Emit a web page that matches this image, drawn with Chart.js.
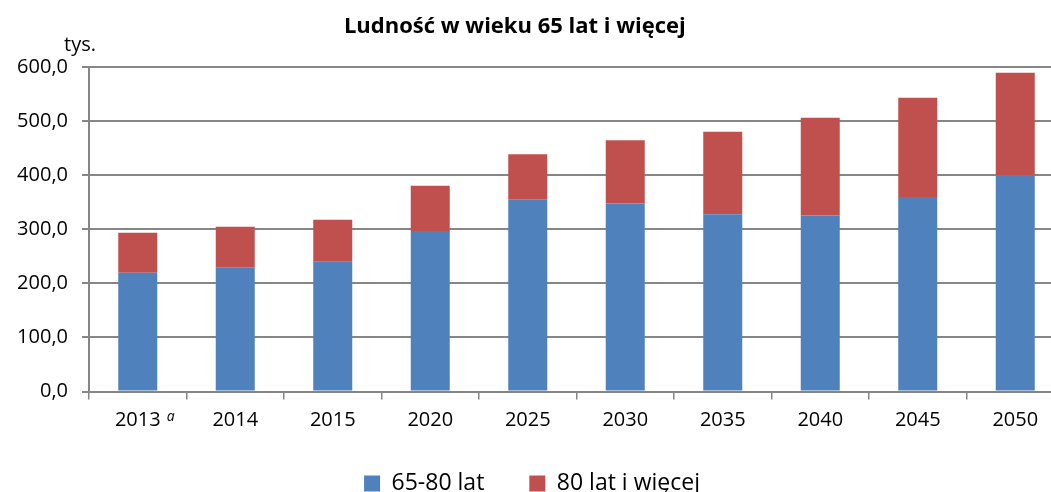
<!DOCTYPE html>
<html>
<head>
<meta charset="utf-8">
<script src="https://cdn.jsdelivr.net/npm/chart.js@4"></script>
<style>
  html, body { margin: 0; padding: 0; background: #fff; overflow: hidden; }
  #wrap { width: 1051px; height: 492px; overflow: hidden; }
</style>
</head>
<body>
<div id="wrap"><canvas id="chart" width="1064" height="492"></canvas></div>
<script>
const years = ['2013', '2014', '2015', '2020', '2025', '2030', '2035', '2040', '2045', '2050'];
const age65to80 = [220, 230, 240, 297, 356, 348, 328, 326, 360, 400];
const age80plus = [74, 75, 78, 84, 83, 117, 153, 181, 184, 190];
const yTicks = [0, 100, 200, 300, 400, 500, 600];

const FONT = '"Open Sans", Lato, sans-serif';

// "tys." unit label and the italic footnote mark next to 2013
const extras = {
    id: 'extras',
    afterDraw(chart) {
        const ctx = chart.ctx;
        const x = chart.scales.x;
        ctx.save();
        ctx.fillStyle = '#000';
        ctx.font = '20px ' + FONT;
        ctx.textAlign = 'left';
        ctx.textBaseline = 'alphabetic';
        ctx.fillText('tys.', 64, 51);
        ctx.font = 'italic 14px ' + FONT;
        ctx.fillText('a', x.getPixelForValue(0) + 29, x.top + 29);
        ctx.restore();
    }
};

new Chart(document.getElementById('chart'), {
    type: 'bar',
    data: {
        labels: years,
        datasets: [
            {
                label: '65-80 lat',
                data: age65to80,
                backgroundColor: '#4F81BD',
                barPercentage: 0.8,
                categoryPercentage: 0.5,
            },
            {
                label: '80 lat i więcej',
                data: age80plus,
                backgroundColor: '#C0504D',
                barPercentage: 0.8,
                categoryPercentage: 0.5,
            },
        ]
    },
    options: {
        responsive: false,
        animation: false,
        layout: { padding: { left: 0, right: 0, top: 4, bottom: 0 } },
        plugins: {
            title: {
                display: true,
                // trailing spaces pull the centred title a bit left, like the original
                text: 'Ludność w wieku 65 lat i więcej      ',
                color: '#000',
                font: { family: FONT, size: 22, weight: 'bold' },
                padding: { top: 10, bottom: 27 }
            },
            legend: {
                position: 'bottom',
                maxHeight: 65,
                labels: {
                    color: '#000',
                    font: { family: FONT, size: 23 },
                    boxWidth: 16,
                    boxHeight: 16,
                    padding: 45
                }
            },
            tooltip: { enabled: false }
        },
        scales: {
            x: {
                stacked: true,
                afterFit(scale) { scale.height = 35.5; },
                grid: {
                    offset: true,
                    drawOnChartArea: false,
                    drawTicks: true,
                    tickLength: 8,
                    color: '#868686',
                    lineWidth: 1.5
                },
                border: { color: '#868686', width: 2 },
                ticks: {
                    color: '#000',
                    font: { family: FONT, size: 20 },
                    padding: 9
                }
            },
            y: {
                stacked: true,
                min: 0,
                max: 600,
                afterFit(scale) { scale.width = 89; },
                afterBuildTicks(scale) { scale.ticks = yTicks.map(v => ({ value: v })); },
                grid: {
                    color: '#868686',
                    lineWidth: 2,
                    tickLength: 7
                },
                border: { color: '#868686', width: 2 },
                ticks: {
                    color: '#000',
                    font: { family: FONT, size: 20 },
                    padding: 14,
                    callback: v => v.toFixed(1).replace('.', ',')
                }
            }
        }
    },
    plugins: [extras]
});
</script>
</body>
</html>
